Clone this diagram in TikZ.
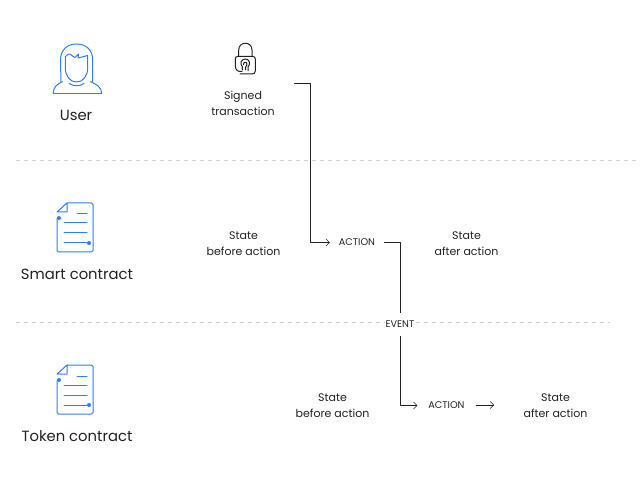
\documentclass[tikz,border=0pt]{standalone}
\usepackage{fontspec}
\usetikzlibrary{arrows.meta}
\setmainfont{Poppins}
\definecolor{iconblue}{HTML}{2F7DF0}
\definecolor{sepgray}{HTML}{D2D2D2}
\definecolor{inkgray}{HTML}{222222}
\tikzset{
  rolelabel/.style={text=inkgray, font=\fontsize{14.8}{18}\selectfont, inner sep=0pt},
  statelabel/.style={text=inkgray, align=center, font=\fontsize{11}{16}\selectfont, inner sep=0pt},
  actionbox/.style={text=inkgray, font=\fontsize{9.7}{10}\selectfont, inner ysep=2pt},
  icon/.style={iconblue, line width=1pt, line join=round, line cap=round},
  sepline/.style={sepgray, line width=1pt, dash pattern=on 4pt off 4pt}
}
\def\docicon{
\draw[icon, rounded corners=1.5pt] (57,218)--(57,252)--(93,252)--(93,203)--(67,203);
\draw[icon] (67,203)--(57,212)--(67,212)--cycle;
\draw[icon] (77,214)--(87,214);
\draw[icon] (64,223)--(87,223);
\draw[icon] (64,233)--(87,233);
\draw[icon] (64,243)--(89,243);
\fill[iconblue] (59,218) circle(2pt);
\fill[iconblue] (89,243) circle(2pt);
}
\begin{document}
\begin{tikzpicture}[x=1pt,y=-1pt,>={Straight Barb[length=3.5pt,width=7pt]}, line join=round]
\useasboundingbox (0,0) rectangle (640,486);
% separators
\draw[sepline] (16,161)--(640,161);
\draw[sepline] (16,323)--(610,323);
% user icon
\draw[icon] (61,82) .. controls (61,75) and (60.5,68) .. (60.5,60) .. controls (60.5,50) and (67,44) .. (76.5,44) .. controls (86,44) and (92.7,50) .. (92.7,60) .. controls (92.7,68) and (92.7,75) .. (92.7,82);
\draw[icon] (65.3,56.7) .. controls (65.3,60) and (65.3,64) .. (65.3,68) .. controls (65.3,76) and (70,82) .. (76.5,82) .. controls (83,82) and (87.7,76) .. (87.7,68) .. controls (87.7,64) and (87.7,60) .. (87.7,55.5);
\draw[icon] (65.3,56.7) .. controls (67,54.5) and (69,53.5) .. (70,54) .. controls (72,55) and (73,57) .. (75,57.5) -- (78.5,54) -- (78,58) -- (87.7,55.5);
\draw[icon] (62.7,81.7) .. controls (57,84) and (53.3,87) .. (53.3,93.5);
\draw[icon] (90.5,81.7) .. controls (96,84) and (101.7,87) .. (101.7,93.5);
\draw[icon] (53.3,93.5)--(101.7,93.5);
\draw[icon] (69.3,83.5) .. controls (73,86.5) and (80,86.5) .. (84,83.5);
% lock icon
\draw[line width=1pt, inkgray, line cap=round] (240,74)--(252,74) .. controls (254,74) and (255.3,73) .. (255.3,71)--(255.3,59) .. controls (255.3,57.5) and (254.5,56.5) .. (253,56.5)--(237.5,56.5) .. controls (236,56.5) and (235.3,57.5) .. (235.3,59)--(235.3,66) .. controls (235.3,70) and (238,72) .. (242,71.5);
\draw[line width=1pt, inkgray, line cap=round] (238.7,56.5)--(238.7,50) .. controls (238.7,41) and (252,41) .. (252,50)--(252,56.5);
\draw[line width=1pt, inkgray, line cap=round] (242.5,70) .. controls (241.5,68) and (242.5,67) .. (242.5,67) .. controls (239.5,64) and (241,59) .. (245.3,59) .. controls (249.5,59) and (251,64) .. (248,67)--(248,71) (243.5,64.5) .. controls (243,61.5) and (247.5,61.5) .. (247,64.5) .. controls (246.8,66) and (245.5,66) .. (245.5,67.5)--(245.5,70);
% document icons
\docicon
\begin{scope}[yshift=-162pt]
\docicon
\end{scope}
% role labels
\node[rolelabel] (user) at (76,115.5) {User};
\node[rolelabel] (smart) at (77,274.5) {Smart contract};
\node[rolelabel] (token) at (77,436.5) {Token contract};
% states and actions
\node[statelabel] (signed) at (243,103) {Signed\\transaction};
\node[statelabel] (before1) at (243.5,244) {State\\before action};
\node[statelabel] (after1) at (466.5,244) {State\\after action};
\node[statelabel] (before2) at (332.5,406) {State\\before action};
\node[statelabel] (after2) at (555.5,406) {State\\after action};
\node[actionbox, inner xsep=9pt] (action1) at (357,242.5) {ACTION};
\node[actionbox, inner xsep=11pt] (action2) at (446.5,405.5) {ACTION};
\node[actionbox, fill=white, inner xsep=1pt, minimum height=23pt] (event) at (400,324.5) {EVENT};
% connectors
\coordinate (txout) at (294,83);
\coordinate (txbus) at (310,83);
\coordinate (actout) at (494,405);
\draw[->, inkgray] (txout)--(txbus) |- (action1.west);
\draw[inkgray] (action1.east) -| (event.north);
\draw[->, inkgray] (event.south) |- (action2.west);
\draw[->, inkgray] (action2.east|-actout)--(actout);
\end{tikzpicture}
\end{document}
